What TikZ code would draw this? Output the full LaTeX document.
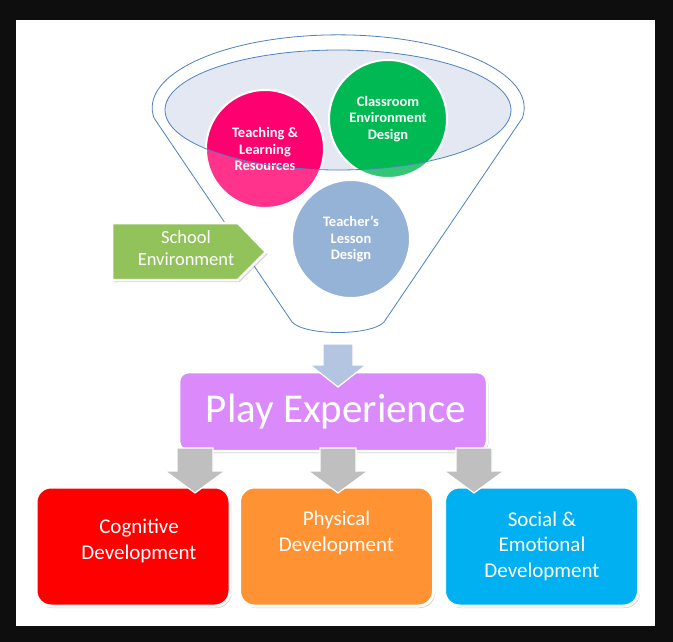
\documentclass[tikz,border=0pt]{standalone}
\usepackage{fontspec}
\setmainfont{Carlito}
\usetikzlibrary{shadows}
\definecolor{frame}{HTML}{0E0E0E}
\definecolor{funnelline}{HTML}{4F81BD}
\definecolor{ellfill}{HTML}{E3E8F2}
\definecolor{cpink}{HTML}{FF0070}
\definecolor{cgreen}{HTML}{00B953}
\definecolor{cteach}{HTML}{7BA0CD}
\definecolor{cschool}{HTML}{92C25A}
\definecolor{cplay}{HTML}{DA8AFB}
\definecolor{cred}{HTML}{FF0000}
\definecolor{corange}{HTML}{FF9333}
\definecolor{cblue}{HTML}{00B0F0}
\definecolor{cgray}{HTML}{BFBFBF}
\definecolor{ctop}{HTML}{B4C5E1}
\newcommand{\blkarrow}[7]{\filldraw[#1] ({#2-#5},#3) -- ({#2+#5},#3) -- ({#2+#5},#4) -- ({#2+#6},#4) -- (#2,#7) -- ({#2-#6},#4) -- ({#2-#5},#4) -- cycle;}
\tikzset{
  bubble/.style={circle, minimum size=118pt, inner sep=0pt, draw=white, line width=2pt, text=white, align=center, font=\fontsize{14.5}{16.3}\selectfont\bfseries},
  devbox/.style={rectangle, rounded corners=15pt, minimum width=194pt, minimum height=119pt, draw=white, line width=3pt, drop shadow={shadow xshift=1.5pt, shadow yshift=-2pt, opacity=0.35}},
  devtext/.style={text=white, align=center, font=\fontsize{21}{25.5}\selectfont},
  grayarrow/.style={fill=cgray, draw=white, line width=1.2pt},
  funnelstroke/.style={draw=funnelline, line width=0.8pt}
}
\begin{document}
\begin{tikzpicture}[x=1pt, y=-1pt]
\useasboundingbox (0,0) rectangle (673,642);
\fill[frame] (0,0) rectangle (673,642);
\fill[white] (16,20) rectangle (655,626);
% inner ellipse fill
\fill[ellfill] (338,110) ellipse[x radius=173, y radius=60];
% circles
\node[bubble, fill=cpink] (teach) at (265,149) {Teaching \&\\Learning\\Resources};
\node[bubble, fill=cgreen] (class) at (388,119) {Classroom\\Environment\\Design};
\node[bubble, fill=cteach] (lesson) at (351,239) {Teacher’s\\Lesson\\Design};
% white veil over funnel body (outside inner ellipse)
\fill[white, opacity=0.2, even odd rule] (292,322) -- (154,118) arc[start angle=172, end angle=368, x radius=186, y radius=73] -- (384,322) .. controls (371,336) and (305,336) .. (292,322) -- cycle (338,110) ellipse[x radius=173, y radius=60];
% funnel outlines
\draw[funnelstroke] (292,322) -- (154,118) arc[start angle=172, end angle=368, x radius=186, y radius=73] -- (384,322) .. controls (371,336) and (305,336) .. (292,322) -- cycle;
\draw[funnelstroke] (338,110) ellipse[x radius=173, y radius=60];
% school environment arrow
\filldraw[fill=cschool, draw=white, line width=2.5pt, drop shadow={shadow xshift=1.5pt, shadow yshift=-2pt, opacity=0.35}] (112,223) -- (238,223) -- (266,252) -- (238,280) -- (112,280) -- cycle;
\node[text=white, align=center, font=\fontsize{18.5}{22}\selectfont] (school) at (186,248) {School\\Environment};
% play experience
\node[rectangle, rounded corners=10pt, minimum width=308pt, minimum height=79pt, fill=cplay, draw=white, line width=2.5pt, drop shadow={shadow xshift=1.5pt, shadow yshift=-2pt, opacity=0.35}, text=white, font=\fontsize{41}{47}\selectfont] (play) at (333,411.5) {\hspace*{6pt}\raisebox{-4pt}{Play Experience}};
% funnel to play arrow
\blkarrow{fill=ctop, draw=white, line width=1.2pt}{338}{344}{365}{15}{28}{387}
% bottom boxes
\node[devbox, fill=cred] (cog) at (133,546.5) {};
\node[devbox, fill=corange] (phys) at (336.5,546.5) {};
\node[devbox, fill=cblue] (soc) at (541.5,546.5) {};
\node[devtext] (cogt) at (139,541) {Cognitive\\Development};
\node[devtext] (physt) at (336.5,533) {Physical\\Development};
\node[devtext] (soct) at (542,546) {Social \&\\Emotional\\Development};
% gray arrows
\blkarrow{grayarrow}{195}{448}{471}{18}{30}{493}
\blkarrow{grayarrow}{338}{448}{471}{18}{30}{493}
\blkarrow{grayarrow}{474}{448}{471}{18}{30}{493}
\end{tikzpicture}
\end{document}
